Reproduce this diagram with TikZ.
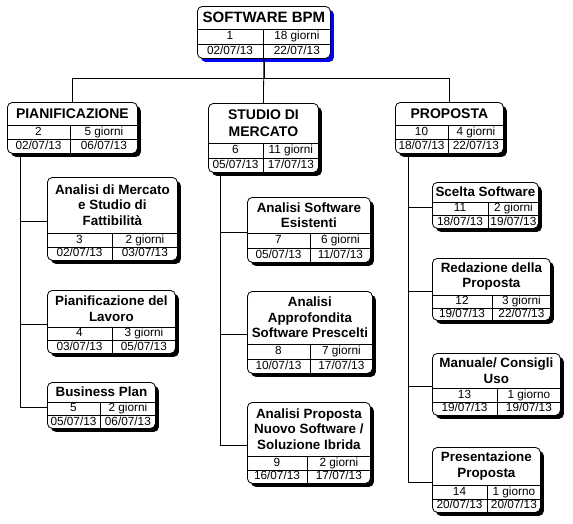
\documentclass[tikz,border=0pt]{standalone}
\usepackage{fontspec}
\setmainfont{Liberation Sans}
\usetikzlibrary{calc, shadows}

% rows of a task box: name, title height, divider offset, title, id, duration, start, end, title style
\newcommand{\wbsrows}[9]{%
  \path (#1.north west) ++(0,#2) coordinate (#1-tl)
        (#1.north west) ++(#3,0) coordinate (#1-dx);
  \coordinate (#1-sl) at ($(#1-tl)!.5!(#1.south west)$);
  \draw[wbsline] (#1-tl) -- (#1-tl -| #1.east);
  \draw[wbsline] (#1-sl) -- (#1-sl -| #1.east);
  \draw[wbsline] (#1-dx |- #1-tl) -- (#1-dx |- #1.south);
  \node[#9] (#1-title) at ($(#1.north)!.5!(#1-tl -| #1.north)$) {#4};
  \node[cell] (#1-id)    at ($(#1-tl)!.5!(#1-dx |- #1-sl)$) {#5};
  \node[cell] (#1-dur)   at ($(#1-dx |- #1-tl)!.5!(#1-sl -| #1.east)$) {#6};
  \node[cell] (#1-start) at ($(#1-sl)!.5!(#1-dx |- #1.south)$) {#7};
  \node[cell] (#1-end)   at ($(#1-dx |- #1-sl)!.5!(#1.south east)$) {#8};
}

\begin{document}
\begin{tikzpicture}[
    x=1pt,
    y=-1pt,
    wbs/.style={
      draw,
      rounded corners=5pt,
      line width=0.8pt,
      fill=white,
      inner sep=0,
      anchor=north west,
      drop shadow={shadow xshift=3.5pt, shadow yshift=-3.5pt, opacity=1, fill=black}
    },
    wbstop/.style={wbs, drop shadow={shadow xshift=3.5pt, shadow yshift=-3.5pt, opacity=1, fill=blue}},
    wbsline/.style={line width=0.8pt},
    link/.style={line width=0.8pt},
    cell/.style={inner sep=0, font=\fontsize{11.8}{12}\selectfont, text height=8.5pt, text depth=2.3pt},
    lvlzero/.style={inner sep=0, align=center, font=\bfseries\fontsize{15}{17}\selectfont},
    lvlone/.style={inner sep=0, align=center, font=\bfseries\fontsize{14}{16.5}\selectfont},
    lvltwo/.style={inner sep=0, align=center, font=\bfseries\fontsize{13.4}{15.5}\selectfont}]
   \useasboundingbox (0,0) rectangle (573,523);

   % root and first level
   \node[wbstop, minimum width=133pt, minimum height=52pt] (sw)     at (197,  6) {};
   \node[wbs,    minimum width=130pt, minimum height=51pt] (pian)   at (  7,102) {};
   \node[wbs,    minimum width=110pt, minimum height=69pt] (studio) at (208,103) {};
   \node[wbs,    minimum width=108pt, minimum height=51pt] (prop)   at (395,102) {};

   % children
   \node[wbs, minimum width=130pt, minimum height=83pt] (amerc)  at ( 47,177) {};
   \node[wbs, minimum width=128pt, minimum height=63pt] (plav)   at ( 47,290) {};
   \node[wbs, minimum width=108pt, minimum height=46pt] (bplan)  at ( 47,382) {};
   \node[wbs, minimum width=123pt, minimum height=65pt] (aesist) at (247,197) {};
   \node[wbs, minimum width=125pt, minimum height=82pt] (aappr)  at (247,291) {};
   \node[wbs, minimum width=123pt, minimum height=81pt] (aprop)  at (247,402) {};
   \node[wbs, minimum width=106pt, minimum height=46pt] (scelta) at (432,182) {};
   \node[wbs, minimum width=118pt, minimum height=62pt] (redaz)  at (432,258) {};
   \node[wbs, minimum width=128pt, minimum height=62pt] (manu)   at (432,353) {};
   \node[wbs, minimum width=108pt, minimum height=65pt] (pres)   at (432,447) {};

   \wbsrows{sw}{23}{66}{SOFTWARE BPM}{1}{18 giorni}{02/07/13}{22/07/13}{lvlzero}
   \wbsrows{pian}{23}{63}{PIANIFICAZIONE}{2}{5 giorni}{02/07/13}{06/07/13}{lvlone}
   \wbsrows{studio}{40}{55}{STUDIO DI\\MERCATO}{6}{11 giorni}{05/07/13}{17/07/13}{lvlone}
   \wbsrows{prop}{23}{53}{PROPOSTA}{10}{4 giorni}{18/07/13}{22/07/13}{lvlone}

   \wbsrows{amerc}{56}{65}{Analisi di Mercato\\e Studio di\\Fattibilità}{3}{2 giorni}{02/07/13}{03/07/13}{lvltwo}
   \wbsrows{plav}{37}{65}{Pianificazione del\\Lavoro}{4}{3 giorni}{03/07/13}{05/07/13}{lvltwo}
   \wbsrows{bplan}{20}{53}{Business Plan}{5}{2 giorni}{05/07/13}{06/07/13}{lvltwo}
   \wbsrows{aesist}{36}{63}{Analisi Software\\Esistenti}{7}{6 giorni}{05/07/13}{11/07/13}{lvltwo}
   \wbsrows{aappr}{53}{63}{Analisi\\Approfondita\\Software Prescelti}{8}{7 giorni}{10/07/13}{17/07/13}{lvltwo}
   \wbsrows{aprop}{54}{60}{Analisi Proposta\\Nuovo Software /\\Soluzione Ibrida}{9}{2 giorni}{16/07/13}{17/07/13}{lvltwo}
   \wbsrows{scelta}{20}{56}{Scelta Software}{11}{2 giorni}{18/07/13}{19/07/13}{lvltwo}
   \wbsrows{redaz}{37}{60}{Redazione della\\Proposta}{12}{3 giorni}{19/07/13}{22/07/13}{lvltwo}
   \wbsrows{manu}{35}{65}{Manuale/ Consigli\\Uso}{13}{1 giorno}{19/07/13}{19/07/13}{lvltwo}
   \wbsrows{pres}{38}{55}{Presentazione\\Proposta}{14}{1 giorno}{20/07/13}{20/07/13}{lvltwo}

   % links
   \begin{scope}[link]
     \draw (sw.south) -- ++(0,20) -| (pian.north);
     \draw (sw.south) -- ++(0,20) -| (prop.north);
     \draw (sw.south) -- (studio.north);
     \foreach \c in {amerc, plav, bplan}
       \draw ([xshift=13pt]pian.south west) |- ([yshift=-2pt]\c.west);
     \foreach \c in {aesist, aappr, aprop}
       \draw ([xshift=12pt]studio.south west) |- ([yshift=-2pt]\c.west);
     \foreach \c in {scelta, redaz, manu, pres}
       \draw ([xshift=13pt]prop.south west) |- ([yshift=-2pt]\c.west);
   \end{scope}
\end{tikzpicture}
\end{document}
